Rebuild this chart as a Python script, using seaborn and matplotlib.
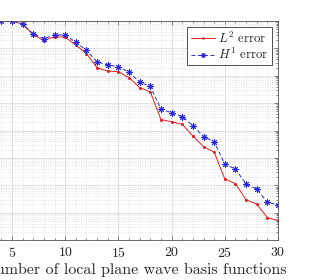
import numpy as np
import pandas as pd
import matplotlib
matplotlib.use("Agg")
import matplotlib.pyplot as plt
import seaborn as sns
from matplotlib.ticker import LogLocator, MultipleLocator, NullFormatter

# ---- data ----
n_basis = [4, 5, 6, 7, 8, 9, 10, 11, 12, 13, 14, 15, 16, 17, 18, 19, 20,
           21, 22, 23, 24, 25, 26, 27, 28, 29, 30]
log_l2 = [0.0, 0.0, -0.12, -0.50, -0.72, -0.57, -0.59, -0.88, -1.19, -1.71,
          -1.83, -1.85, -2.07, -2.43, -2.59, -3.60, -3.68, -3.77, -4.20,
          -4.59, -4.79, -5.77, -5.94, -6.53, -6.69, -7.18, -7.29]
log_h1 = [0.0, 0.0, -0.11, -0.47, -0.65, -0.50, -0.51, -0.78, -1.07, -1.50,
          -1.60, -1.67, -1.87, -2.23, -2.39, -3.22, -3.35, -3.49, -3.82,
          -4.22, -4.41, -5.23, -5.41, -5.95, -6.14, -6.62, -6.72]
l2_err = [10 ** v for v in log_l2]
h1_err = [10 ** v for v in log_h1]
x_ticks = [5, 10, 15, 20, 25, 30]
labels = [r"$L^2$ error", r"$H^1$ error"]
xlabel = "Number of local plane wave basis functions"

df_l2 = pd.DataFrame({"n": n_basis, "err": l2_err})
df_h1 = pd.DataFrame({"n": n_basis, "err": h1_err})

sns.set_theme(style="white")
plt.rcParams["font.family"] = "serif"
plt.rcParams["font.serif"] = ["cmr10", "DejaVu Serif"]
plt.rcParams["mathtext.fontset"] = "cm"
plt.rcParams["axes.formatter.use_mathtext"] = True

W, H = 314, 280
fig = plt.figure(figsize=(W / 100, H / 100), dpi=100)
left_px, right_px, top_px, bot_px = -30.6, 278, 21, 240
ax = fig.add_axes([left_px / W, 1 - bot_px / H,
                   (right_px - left_px) / W, (bot_px - top_px) / H])

sns.lineplot(data=df_l2, x="n", y="err", ax=ax, color="#e02020",
             linewidth=0.7, marker="o", markersize=2.2, markeredgewidth=0,
             label=labels[0])
sns.lineplot(data=df_h1, x="n", y="err", ax=ax, color="#2a2ae0",
             linewidth=0.7, linestyle=(0, (4, 2.5)), marker=(8, 2, 0),
             markersize=4.5, markeredgewidth=0.7, markeredgecolor="#2a2ae0",
             label=labels[1])

ax.set_yscale("log")
ax.set_xlim(1, 30)
ax.set_ylim(1e-8, 1e0)
ax.set_xticks(x_ticks)
ax.xaxis.set_minor_locator(MultipleLocator(1))
ax.yaxis.set_major_locator(LogLocator(base=10, numticks=20))
ax.yaxis.set_minor_locator(LogLocator(base=10, subs=np.arange(2, 10), numticks=200))
ax.yaxis.set_minor_formatter(NullFormatter())

ax.grid(True, which="major", color="#dcdcdc", linewidth=0.6, linestyle="-")
ax.grid(True, which="minor", color="#d8d8d8", linewidth=0.5, linestyle=(0, (1, 1.5)))
ax.set_axisbelow(True)

for s in ax.spines.values():
    s.set_color("#555555")
    s.set_linewidth(0.6)
ax.tick_params(which="both", direction="in", top=True, right=True,
               bottom=True, left=True, color="#555555", width=0.5)
ax.tick_params(which="major", length=3, labelsize=10, pad=4)
ax.tick_params(which="minor", length=1.5)
ax.tick_params(axis="y", labelleft=False)

ax.set_xlabel(xlabel, fontsize=11.5)
ax.set_ylabel("")

leg = ax.legend(loc="upper right", fontsize=9.2, frameon=True, fancybox=False,
                edgecolor="#333333", framealpha=1, handlelength=1.9,
                handletextpad=0.25, borderpad=0.25, labelspacing=0.1,
                borderaxespad=0.5, markerscale=0.8)
leg.get_frame().set_linewidth(0.6)

# place the x label so its right end sits where the reference shows it
fig.canvas.draw()
lab = ax.xaxis.label
bb = lab.get_window_extent(fig.canvas.get_renderer())
target_right = 286
target_cy = H - 270
dx = target_right - bb.x1
dy = target_cy - (bb.y0 + bb.y1) / 2
ax_bb = ax.get_window_extent()
cx = (bb.x0 + bb.x1) / 2 + dx
cy = (bb.y0 + bb.y1) / 2 + dy
ax.xaxis.set_label_coords((cx - ax_bb.x0) / ax_bb.width,
                          (cy - ax_bb.y0) / ax_bb.height)
lab.set_va("center")

fig.savefig("out.png", dpi=100)
